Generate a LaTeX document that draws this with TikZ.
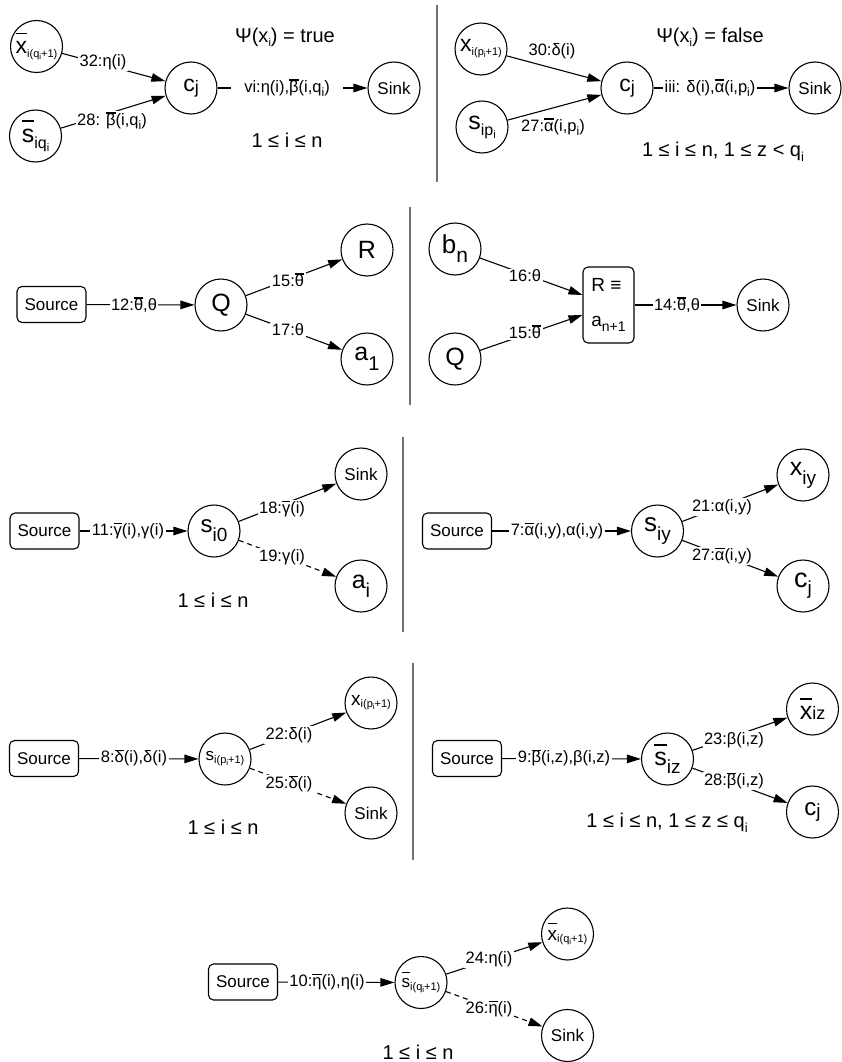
\documentclass[tikz,border=0pt]{standalone}
\usepackage{fontspec}
\setmainfont{Liberation Sans}
\usetikzlibrary{arrows.meta,calc}

% font size shortcut
\newcommand{\fs}[1]{\fontsize{#1pt}{#1pt}\selectfont}
% lowered, smaller text: size, drop, text
\newcommand{\lo}[3]{\raisebox{-#2pt}{\fs{#1}#3}}
% bar over a glyph, raised at least to the optional height
\newlength\obraise
\newcommand{\ob}[2][.72em]{\setbox0\hbox{#2}%
  \obraise=\dimexpr\ht0+.1em\relax
  \ifdim\obraise<#1 \obraise=#1\fi
  \rlap{\rule[\obraise]{\wd0}{.07em}}\box0}

\tikzset{
  st/.style={draw, circle, minimum size=52pt, inner sep=0pt, line width=1.1pt},
  sinknode/.style={st, font=\fs{17}},
  srcbox/.style={draw, rounded corners=5pt, line width=1.1pt, minimum width=69pt,
    minimum height=36pt, inner sep=0pt, font=\fs{17}},
  lbl/.style={fill=white, inner xsep=1.5pt, inner ysep=1pt, font=\fs{16.5}},
  note/.style={inner sep=0pt, font=\fs{20}},
  link/.style={line width=1.1pt},
  arr/.style={link, -{Triangle[length=14pt,width=8.5pt]}},
  dashlink/.style={arr, dash pattern=on 5pt off 4pt},
  divider/.style={line width=1.5pt, draw=black!55},
}

\begin{document}
\begin{tikzpicture}[x=1pt, y=-1pt]
\useasboundingbox (0,0) rectangle (842,1062);

% ---------- top left: Psi(x_i) = true ----------
\node[st] (xq1) at (36.5,46.5) {\fs{23}\ob[.85em]{x}\lo{11}{4}{i(q\lo{8}{2}{i}+1)}};
\node[st] (sq1) at (35.5,136) {\fs{25}\ob[.8em]{s}\lo{16}{6}{iq\lo{11}{3}{i}}};
\node[st] (cj1) at (191,88) {\fs{23}c\lo{18}{2}{j}};
\node[sinknode] (sink1) at (394,88) {Sink};
\node[note] (psi1) at (285,37) {Ψ(x\lo{11}{4}{i}) = true};
\node[note] (rng1) at (287,140) {1 ≤ i ≤ n};
\draw[arr] (xq1) -- (cj1) node[lbl] (e32) at (103,62) {32:η(i)};
\draw[arr] (sq1) -- (cj1) node[lbl] (e28a) at (112,121) {28: \ob{β}(i,q\lo{12}{4}{i})};
\draw[arr] (cj1) -- (sink1) node[lbl, inner xsep=13pt] (evi) at (287,88) {vi:η(i),\ob{β}(i,q\lo{12}{4}{i})};

\draw[divider] (437,5) -- (437,182);

% ---------- top right: Psi(x_i) = false ----------
\node[st] (xp2) at (481,49) {\fs{23}x\lo{11}{4}{i(p\lo{8}{2}{i}+1)}};
\node[st] (sp2) at (482,127) {\fs{25}s\lo{16}{6}{ip\lo{11}{3}{i}}};
\node[st] (cj2) at (627,88) {\fs{23}c\lo{18}{2}{j}};
\node[sinknode] (sink2) at (815,88) {Sink};
\node[note] (psi2) at (710,37) {Ψ(x\lo{11}{4}{i}) = false};
\node[note] (rng2) at (723,152) {1 ≤ i ≤ n, 1 ≤ z < q\lo{13}{5}{i}};
\draw[arr] (xp2) -- (cj2) node[lbl] (e30) at (552,51) {30:δ(i)};
\draw[arr] (sp2) -- (cj2) node[lbl] (e27a) at (553,127) {27:\ob{α}(i,p\lo{12}{4}{i})};
\draw[arr] (cj2) -- (sink2) node[lbl] (eiii) at (710,88) {iii: δ(i),\ob{α}(i,p\lo{12}{4}{i})};

% ---------- second row, left ----------
\node[srcbox] (src2) at (51.5,304.5) {Source};
\node[st] (Q2) at (221,305) {\fs{25}Q};
\node[st] (R2) at (367,250) {\fs{25}R};
\node[st] (a12) at (367,359) {\fs{25}a\lo{20}{10}{1}};
\draw[arr] (src2) -- (Q2) node[lbl] (e12) at (134,305) {12:\ob{θ},θ};
\draw[arr] (Q2) -- (R2) node[lbl] (e15a) at (288,280) {15:\ob{θ}};
\draw[arr] (Q2) -- (a12) node[lbl] (e17) at (288,330) {17:θ};

\draw[divider] (410,207) -- (410,405);

% ---------- second row, right ----------
\node[st] (bn) at (455,249) {\fs{26}b\lo{21}{9}{n}};
\node[st] (Q3) at (455,359) {\fs{25}Q};
\node[draw, rounded corners=5pt, line width=1.1pt, minimum width=51pt, minimum height=76pt,
  inner sep=0pt, align=left, font=\fs{19}] (rb) at (608.5,305) {R ≡\\[16pt]a\lo{14}{5}{n+1}};
\node[sinknode] (sink3) at (763,305) {Sink};
\coordinate (rin1) at ($(rb.west)+(0,-10)$);
\coordinate (rin2) at ($(rb.west)+(0,10)$);
\draw[arr] (bn) -- (rin1) node[lbl] (e16) at (525,276) {16:θ};
\draw[arr] (Q3) -- (rin2) node[lbl] (e15b) at (525,332) {15:\ob{θ}};
\draw[arr] (rb) -- (sink3) node[lbl] (e14) at (677,305) {14:\ob{θ},θ};

% ---------- third row, left ----------
\node[srcbox] (src3) at (44.5,531) {Source};
\node[st] (si0) at (214,531) {\fs{24}s\lo{19}{9}{i0}};
\node[sinknode] (sink4) at (361,474) {Sink};
\node[st] (ai) at (361,586) {\fs{25}a\lo{20}{9}{i}};
\node[note] (rng3) at (213,600) {1 ≤ i ≤ n};
\draw[arr] (src3) -- (si0) node[lbl] (e11) at (128,531) {11:\ob{γ}(i),γ(i)};
\draw[arr] (si0) -- (sink4) node[lbl] (e18) at (282,509) {18:\ob{γ}(i)};
\draw[dashlink] (si0) -- (ai) node[lbl] (e19) at (282,557) {19:γ(i)};

\draw[divider] (403,437) -- (403,632);

% ---------- third row, right ----------
\node[srcbox] (src4) at (457,531) {Source};
\node[st] (siy) at (657.5,531) {\fs{26}s\lo{19}{9}{iy}};
\node[st] (xiy) at (803,475) {\fs{25}x\lo{19}{9}{iy}};
\node[st] (cj3) at (803,586) {\fs{27}c\lo{19}{7}{j}};
\draw[arr] (src4) -- (siy) node[lbl] (e7) at (557,531) {7:\ob{α}(i,y),α(i,y)};
\draw[arr] (siy) -- (xiy) node[lbl] (e21) at (722,507) {21:α(i,y)};
\draw[arr] (siy) -- (cj3) node[lbl] (e27b) at (722,556) {27:\ob{α}(i,y)};

% ---------- fourth row, left ----------
\node[srcbox] (src5) at (44,758.5) {Source};
\node[st] (sp5) at (225,759) {\fs{17}s\lo{11}{3}{i(p\lo{8}{2}{i}+1)}};
\node[st] (xp5) at (371,703) {\fs{19}x\lo{11}{2}{i(p\lo{8}{2}{i}+1)}};
\node[sinknode] (sink5) at (371,813) {Sink};
\node[note] (rng5) at (223,827) {1 ≤ i ≤ n};
\draw[arr] (src5) -- (sp5) node[lbl] (e8) at (134,758) {8:\ob{δ}(i),δ(i)};
\draw[arr] (sp5) -- (xp5) node[lbl] (e22) at (289,735) {22:δ(i)};
\draw[dashlink] (sp5) -- (sink5) node[lbl] (e25) at (289,784) {25:\ob{δ}(i)};

\draw[divider] (413,663) -- (413,860);

% ---------- fourth row, right ----------
\node[srcbox] (src6) at (467,758.5) {Source};
\node[st] (siz) at (667.5,759) {\fs{25}\ob[.8em]{s}\lo{19}{8}{iz}};
\node[st] (xiz) at (812.5,709) {\fs{25}\ob[.8em]{x}{\fs{18}iz}};
\node[st] (cj4) at (812.5,812) {\fs{24}c\lo{19}{2}{j}};
\node[note] (rng6) at (667,823) {1 ≤ i ≤ n, 1 ≤ z ≤ q\lo{13}{5}{i}};
\draw[arr] (src6) -- (siz) node[lbl] (e9) at (564,758) {9:\ob{β}(i,z),β(i,z)};
\draw[arr] (siz) -- (xiz) node[lbl] (e23) at (734,740) {23:β(i,z)};
\draw[arr] (siz) -- (cj4) node[lbl] (e28b) at (734,781) {28:\ob{β}(i,z)};

% ---------- bottom ----------
\node[srcbox] (src7) at (243,982) {Source};
\node[st] (sq7) at (421,982.5) {\fs{17}\ob[.85em]{s}\lo{11}{3}{i(q\lo{8}{2}{i}+1)}};
\node[st] (xq7) at (567.5,934) {\fs{19}\ob[.85em]{x}\lo{11}{2}{i(q\lo{8}{2}{i}+1)}};
\node[sinknode] (sink7) at (567.5,1035.5) {Sink};
\node[note] (rng7) at (418,1052) {1 ≤ i ≤ n};
\draw[arr] (src7) -- (sq7) node[lbl] (e10) at (327,982) {10:\ob{η}(i),η(i)};
\draw[arr] (sq7) -- (xq7) node[lbl] (e24) at (489,959) {24:η(i)};
\draw[dashlink] (sq7) -- (sink7) node[lbl] (e26) at (489,1009) {26:\ob{η}(i)};
\end{tikzpicture}
\end{document}
